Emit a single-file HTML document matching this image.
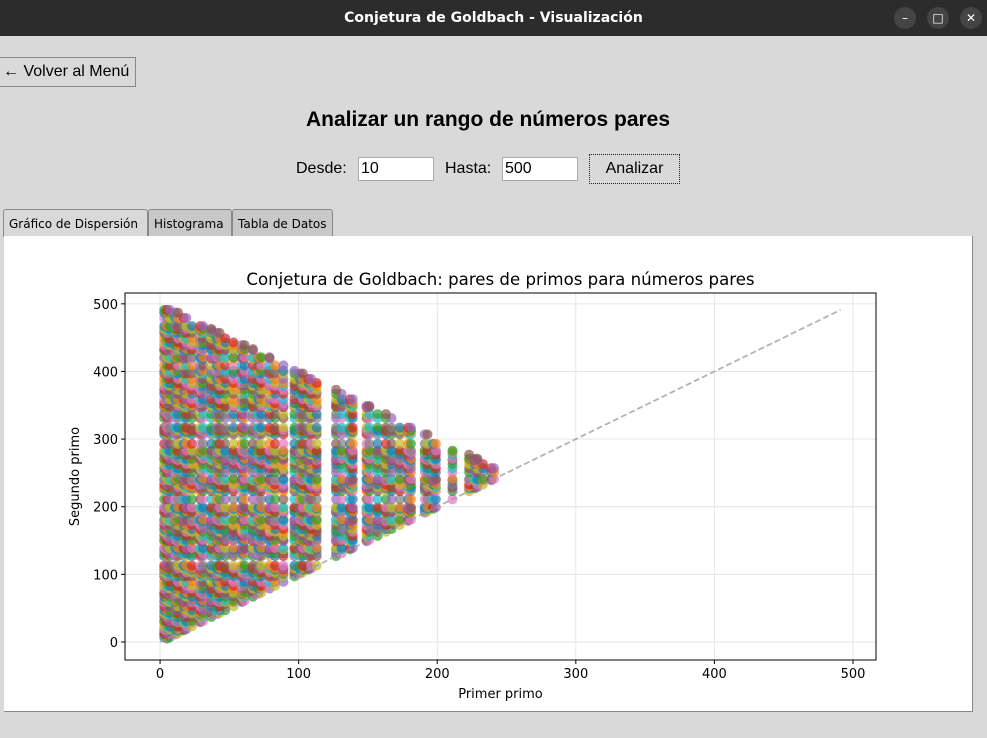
<!DOCTYPE html>
<html><head><meta charset="utf-8"><style>
body{margin:0;width:987px;height:738px;background:#d9d9d9;font-family:"Liberation Sans",sans-serif;position:relative;overflow:hidden}
.tb{position:absolute;left:0;top:0;width:987px;height:36px;background:#2c2c2c;color:#fff;font-family:"DejaVu Sans",sans-serif;font-weight:bold;font-size:14px;text-align:center;line-height:36px}
.wb{position:absolute;top:7px;width:22px;height:22px;border-radius:11px;background:#444;color:#fff;font-size:12px;line-height:22px;text-align:center;font-weight:normal}
.btn{position:absolute;background:#d9d9d9;border:1px solid #888;font-size:16px;box-sizing:border-box}
.inp{position:absolute;background:#fff;border:1px solid #aaa;font-size:16px;box-sizing:border-box;padding-left:2px;line-height:22px}
.lbl{position:absolute;font-size:16px}
.tab{position:absolute;top:209px;height:27px;border:1px solid #888;border-bottom:none;font-family:"DejaVu Sans",sans-serif;font-size:12px;line-height:28px;padding:0 5px;box-sizing:border-box;background:#c8c8c8;border-radius:3px 3px 0 0;white-space:nowrap}
</style></head><body>
<div class="tb">Conjetura de Goldbach - Visualización
<div class="wb" style="left:894px">–</div>
<div class="wb" style="left:927px">□</div>
<div class="wb" style="left:960px">✕</div></div>
<div class="btn" style="left:-2px;top:57px;width:138px;height:30px;line-height:28px;padding-left:4px">← Volver al Menú</div>
<div style="position:absolute;left:0;width:976px;top:108px;text-align:center;font-size:21px;font-weight:bold">Analizar un rango de números pares</div>
<div class="lbl" style="left:296px;top:160px">Desde:</div>
<div class="inp" style="left:358px;top:157px;width:76px;height:24px">10</div>
<div class="lbl" style="left:445px;top:160px">Hasta:</div>
<div class="inp" style="left:502px;top:157px;width:76px;height:24px">500</div>
<div class="btn" style="left:589px;top:154px;width:91px;height:30px;line-height:28px;text-align:center;border:1px dotted #222">Analizar</div>
<div class="tab" style="left:3px;width:145px;background:#d9d9d9;height:28px">Gráfico de Dispersión</div>
<div class="tab" style="left:148px;width:84px">Histograma</div>
<div class="tab" style="left:232px;width:101px">Tabla de Datos</div>
<div style="position:absolute;left:4px;top:236px;width:968px;height:475px;background:#fff;border-right:1px solid #888;border-bottom:1px solid #888"></div>
<svg id="ch" width="987" height="738" style="position:absolute;left:0;top:0"></svg>
<script>
const primes=[2,3,5,7,11,13,17,19,23,29,31,37,41,43,47,53,59,61,67,71,73,79,83,89,97,101,103,107,109,113,127,131,137,139,149,151,157,163,167,173,179,181,191,193,197,199,211,223,227,229,233,239,241,251,257,263,269,271,277,281,283,293,307,311,313,317,331,337,347,349,353,359,367,373,379,383,389,397,401,409,419,421,431,433,439,443,449,457,461,463,467,479,487,491,499];
const rangeStart=10, rangeEnd=500;
const xTicks=[0,100,200,300,400,500];
const yTicks=[0,100,200,300,400,500];
const colors=['#1f77b4','#ff7f0e','#2ca02c','#d62728','#9467bd','#8c564b','#e377c2','#7f7f7f','#bcbd22','#17becf'];
const L=125,R=876,T=293,B=660,xmin=-25.3,xmax=516.6,ymin=-26.6,ymax=516;
const X=v=>L+(v-xmin)/(xmax-xmin)*(R-L), Y=v=>B-(v-ymin)/(ymax-ymin)*(B-T);
const svg=document.getElementById('ch');const NS='http://www.w3.org/2000/svg';
function mk(t,a,txt){const e=document.createElementNS(NS,t);for(const k in a)e.setAttribute(k,a[k]);if(txt!=null)e.textContent=txt;svg.appendChild(e);return e;}
xTicks.forEach(v=>{const e=mk('line',{x1:X(v),x2:X(v),y1:T,y2:B,stroke:'#e6e6e6'});});
yTicks.forEach(v=>{const e=mk('line',{x1:L,x2:R,y1:Y(v),y2:Y(v),stroke:'#e6e6e6'});});
const ps=new Set(primes);let ci=0;
for(let n=rangeStart;n<=rangeEnd;n+=2){const col=colors[ci%10];ci++;
 for(const p of primes){if(p>n/2)break;if(ps.has(n-p)){const c=mk('circle',{cx:X(p),cy:Y(n-p),r:5,fill:col,'fill-opacity':0.7});
 }}}
const dl=mk('line',{x1:X(0),y1:Y(0),x2:X(491),y2:Y(491),stroke:'#999','stroke-opacity':0.75,'stroke-width':1.8,'stroke-dasharray':'6,3'});

const fr=mk('rect',{x:L,y:T,width:R-L,height:B-T,fill:'none',stroke:'#000'});

xTicks.forEach(v=>{mk('line',{x1:X(v),x2:X(v),y1:B,y2:B+4,stroke:'#000'});const t=mk('text',{x:X(v),y:B+18,'text-anchor':'middle','font-size':13,'font-family':'DejaVu Sans,sans-serif'},v);});
yTicks.forEach(v=>{mk('line',{x1:L-4,x2:L,y1:Y(v),y2:Y(v),stroke:'#000'});const t=mk('text',{x:L-7,y:Y(v)+5,'text-anchor':'end','font-size':13,'font-family':'DejaVu Sans,sans-serif'},v);});
let t=mk('text',{x:(L+R)/2,y:285,'text-anchor':'middle','font-size':16.6,'font-family':'DejaVu Sans,sans-serif'},'Conjetura de Goldbach: pares de primos para números pares');
t=mk('text',{x:(L+R)/2,y:698,'text-anchor':'middle','font-size':13,'font-family':'DejaVu Sans,sans-serif'},'Primer primo');
t=mk('text',{x:79,y:(T+B)/2,'text-anchor':'middle','font-size':13,'font-family':'DejaVu Sans,sans-serif',transform:`rotate(-90 79 ${(T+B)/2})`},'Segundo primo');
</script>
</body></html>
